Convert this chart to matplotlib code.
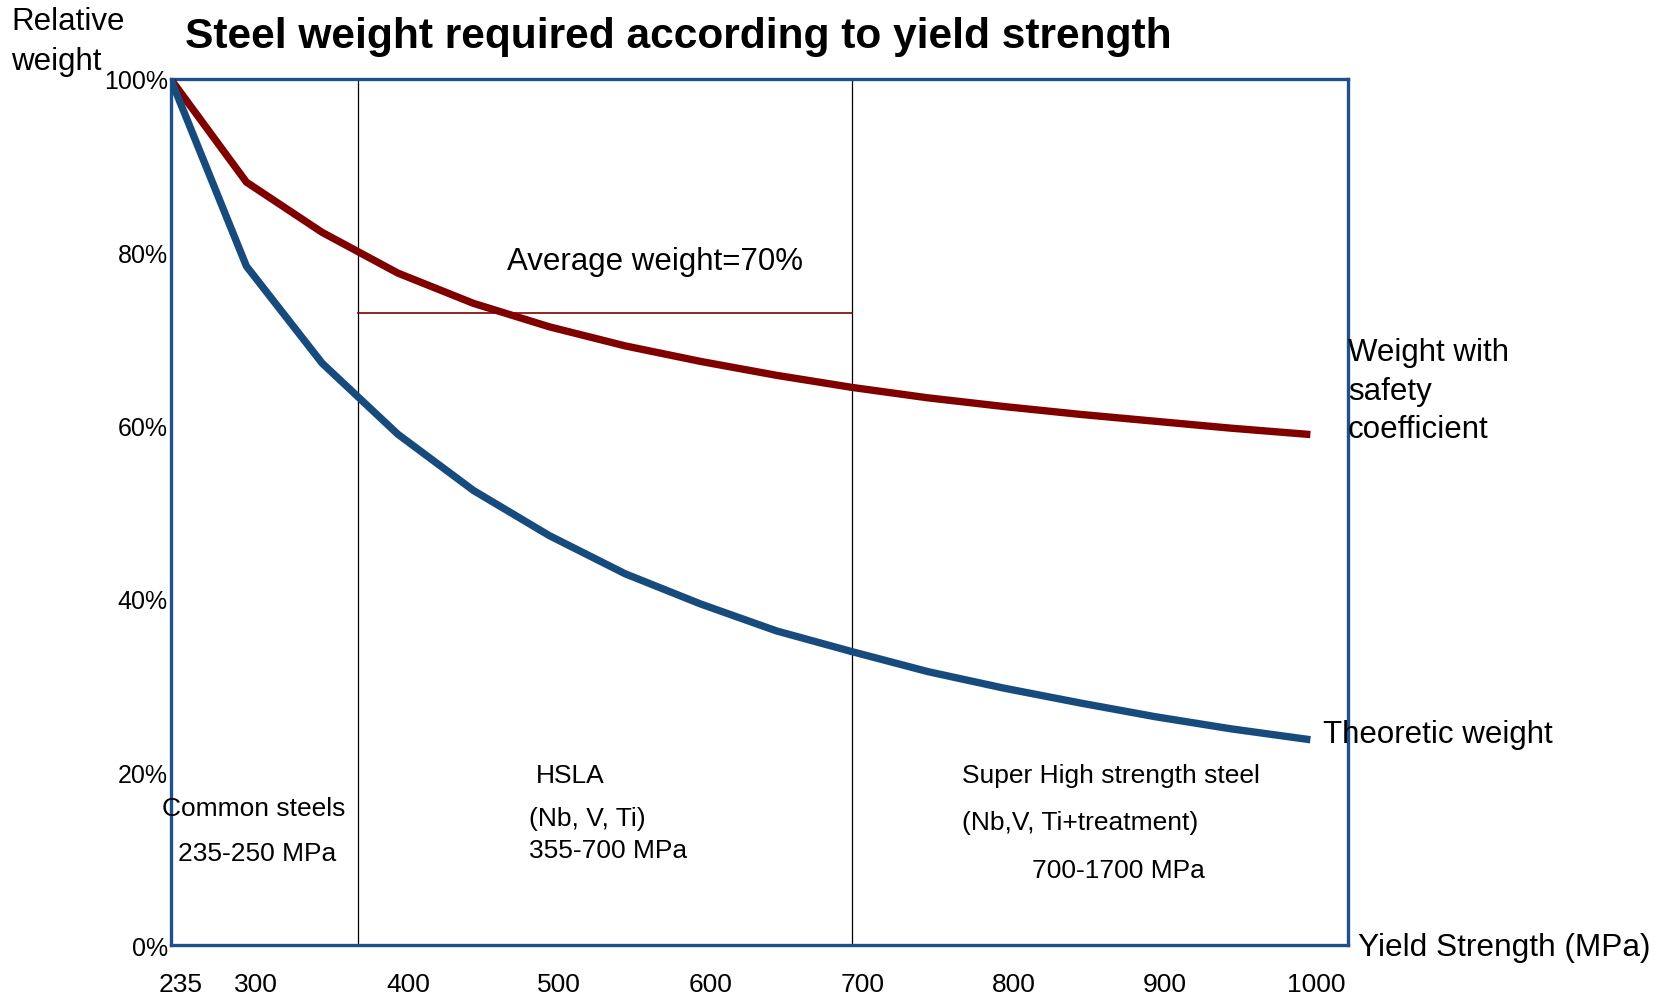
import matplotlib.pyplot as plt
import matplotlib.transforms as mtransforms

plt.rcParams['font.family'] = ['Liberation Sans', 'DejaVu Sans']

# Yield strength categories (MPa), evenly spaced on the chart
strengths = [235, 300, 350, 400, 450, 500, 550, 600, 650, 700, 750, 800, 850, 900, 950, 1000]
# Relative weight (%)
theoretic = [100, 78.4, 67.2, 59.0, 52.5, 47.3, 42.9, 39.4, 36.3, 33.9, 31.6, 29.7, 28.0, 26.4, 25.0, 23.8]
with_safety = [100, 88.1, 82.3, 77.6, 74.1, 71.4, 69.2, 67.4, 65.8, 64.4, 63.2, 62.2, 61.3, 60.5, 59.7, 59.0]

tick_labels = ['235', '300', '400', '500', '600', '700', '800', '900', '1000']
y_ticks = [0, 20, 40, 60, 80, 100]
region_bounds = [2.48, 9.0]   # category positions of the separators
avg_level = 73.0

blue = '#174B7D'
spine_blue = '#1F5089'
red = '#800000'

fig = plt.figure(figsize=(16.73, 9.95), dpi=100)
ax = fig.add_axes([0.102, 0.0488, 0.7035, 0.8708])

xs = list(range(len(strengths)))
ax.plot(xs, with_safety, color=red, lw=5.3, solid_joinstyle='round', zorder=3)
ax.plot(xs, theoretic, color=blue, lw=5.3, solid_joinstyle='round', zorder=3)

for b in region_bounds:
    ax.axvline(b, color='black', lw=0.9, zorder=2)
ax.plot(region_bounds, [avg_level, avg_level], color=red, lw=1.2, zorder=2)

ax.set_xlim(0, 15.54)
ax.set_ylim(0, 100)

tick_pos = [strengths.index(int(t)) for t in tick_labels]
ax.set_xticks(tick_pos)
ax.set_xticklabels(tick_labels, fontsize=19)
ax.set_yticks(y_ticks)
ax.set_yticklabels([f'{v}%' for v in y_ticks], fontsize=18)
ax.tick_params(axis='x', length=0, pad=19)
ax.tick_params(axis='y', length=0, pad=2)
offset = mtransforms.ScaledTranslation(10 / 100, 0, fig.dpi_scale_trans)
for lab in ax.get_xticklabels():
    lab.set_transform(lab.get_transform() + offset)

for s in ax.spines.values():
    s.set_color(spine_blue)
    s.set_linewidth(2.4)

W, H = 1673, 995


def ftext(x, y, s, **kw):
    fig.text(x / W, 1 - y / H, s, va='center', ha='left', **kw)


ftext(185, 37, 'Steel weight required according to yield strength', fontsize=30.6, fontweight='bold')
ftext(11, 22, 'Relative', fontsize=22.5)
ftext(11, 62, 'weight', fontsize=22.5)
ftext(507, 262, 'Average weight=70%', fontsize=22.5)
fig.text(1348 / W, 1 - 338 / H, 'Weight with\nsafety\ncoefficient', fontsize=22.5,
         va='top', ha='left', linespacing=1.38)
ftext(1323, 735, 'Theoretic weight', fontsize=22.5)
ftext(1358, 948, 'Yield Strength (MPa)', fontsize=22.8)

ftext(162, 809, 'Common steels', fontsize=19)
ftext(178, 854, '235-250 MPa', fontsize=19)
ftext(536, 776, 'HSLA', fontsize=19)
ftext(529, 819, '(Nb, V, Ti)', fontsize=19)
ftext(529, 851, '355-700 MPa', fontsize=19)
ftext(962, 776, 'Super High strength steel', fontsize=19)
ftext(962, 823, '(Nb,V, Ti+treatment)', fontsize=19)
ftext(1032, 871, '700-1700 MPa', fontsize=19)

fig.savefig('out.png', dpi=100)
